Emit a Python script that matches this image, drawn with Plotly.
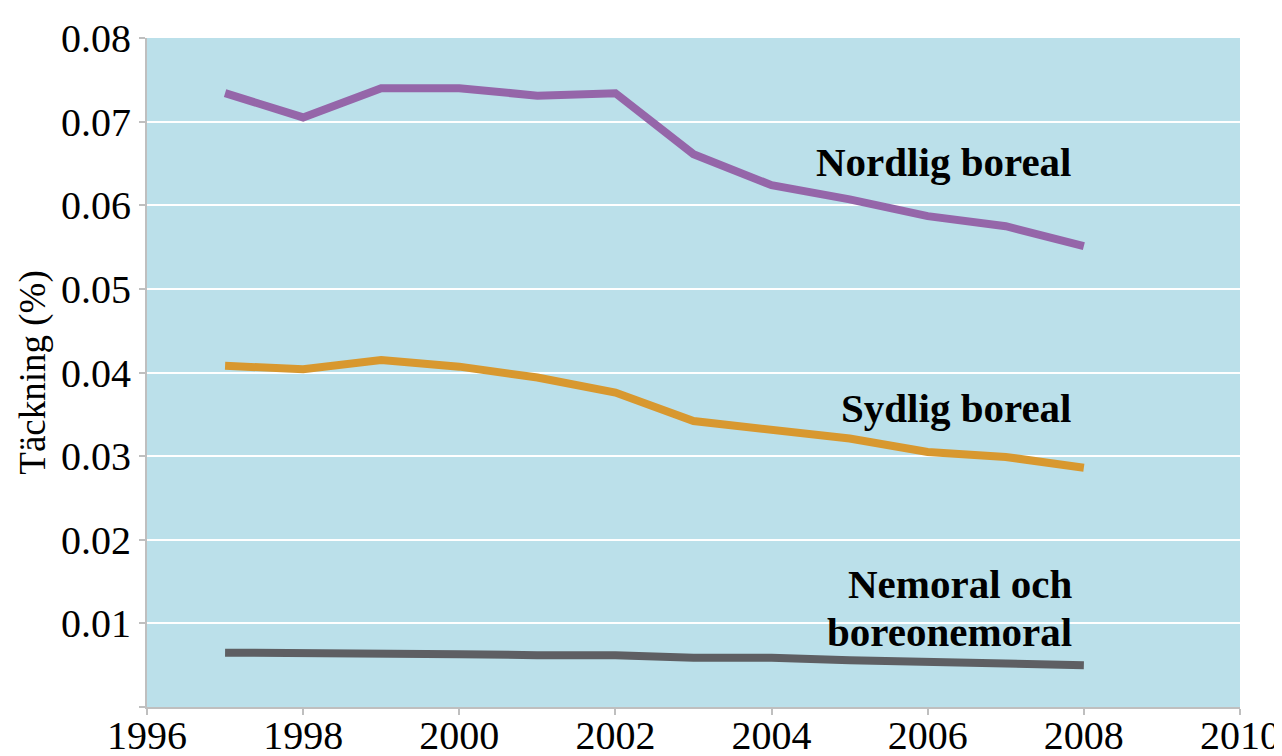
import plotly.graph_objects as go

years = [1997, 1998, 1999, 2000, 2001, 2002, 2003, 2004, 2005, 2006, 2007, 2008]
nordlig = [0.0734, 0.0705, 0.0740, 0.0740, 0.0731, 0.0734, 0.0661, 0.0624, 0.0607, 0.0587, 0.0575, 0.0551]
sydlig = [0.0408, 0.0404, 0.0415, 0.0407, 0.0394, 0.0376, 0.0342, 0.0331, 0.0321, 0.0305, 0.0299, 0.0286]
nemoral = [0.0065, 0.0065, 0.0065, 0.0063, 0.0062, 0.0062, 0.0059, 0.0059, 0.0056, 0.0055, 0.0052, 0.0050]

# one entry per text line
labels = ["Nordlig boreal", "Sydlig boreal", "Nemoral och", "boreonemoral"]
label_y = [0.0652, 0.0357, 0.0147, 0.0090]

ytick_vals = [0, 0.01, 0.02, 0.03, 0.04, 0.05, 0.06, 0.07, 0.08]
ytick_text = ["", "0.01", "0.02", "0.03", "0.04", "0.05", "0.06", "0.07", "0.08"]

fig = go.Figure()
for vals, col in [(nordlig, "#9566A9"), (sydlig, "#D8982F"), (nemoral, "#5E5F63")]:
    fig.add_trace(go.Scatter(x=years, y=vals, mode="lines",
                             line=dict(color=col, width=8), showlegend=False))

for txt, yv in zip(labels, label_y):
    fig.add_annotation(x=2008, y=yv, text="<b>" + txt + "</b>", showarrow=False,
                       xanchor="right", yanchor="middle", align="right", xshift=-10,
                       font=dict(family="Liberation Serif", size=41, color="black"))

# page body adds an 8px offset, so margins are shifted to compensate
fig.update_layout(
    width=1282, height=756,
    margin=dict(l=139, r=50, t=30, b=57),
    paper_bgcolor="white", plot_bgcolor="#BBE0EA",
    font=dict(family="Liberation Serif", size=40, color="black"),
)
fig.update_xaxes(range=[1996, 2010], dtick=2, tick0=1996, showgrid=False, zeroline=False,
                 showline=True, linecolor="#BFBFBF", linewidth=2, automargin=False,
                 ticks="outside", ticklen=6, tickcolor="#BFBFBF", tickwidth=2,
                 ticklabelstandoff=-14)
fig.update_yaxes(range=[0, 0.08], tickvals=ytick_vals, ticktext=ytick_text, showgrid=True,
                 gridcolor="white", gridwidth=2, zeroline=False, automargin=False,
                 showline=True, linecolor="#BFBFBF", linewidth=2,
                 ticks="outside", ticklen=6, tickcolor="#BFBFBF", tickwidth=2,
                 title=dict(text="Täckning (%)", font=dict(size=37), standoff=4))

fig.write_html("out.html")
